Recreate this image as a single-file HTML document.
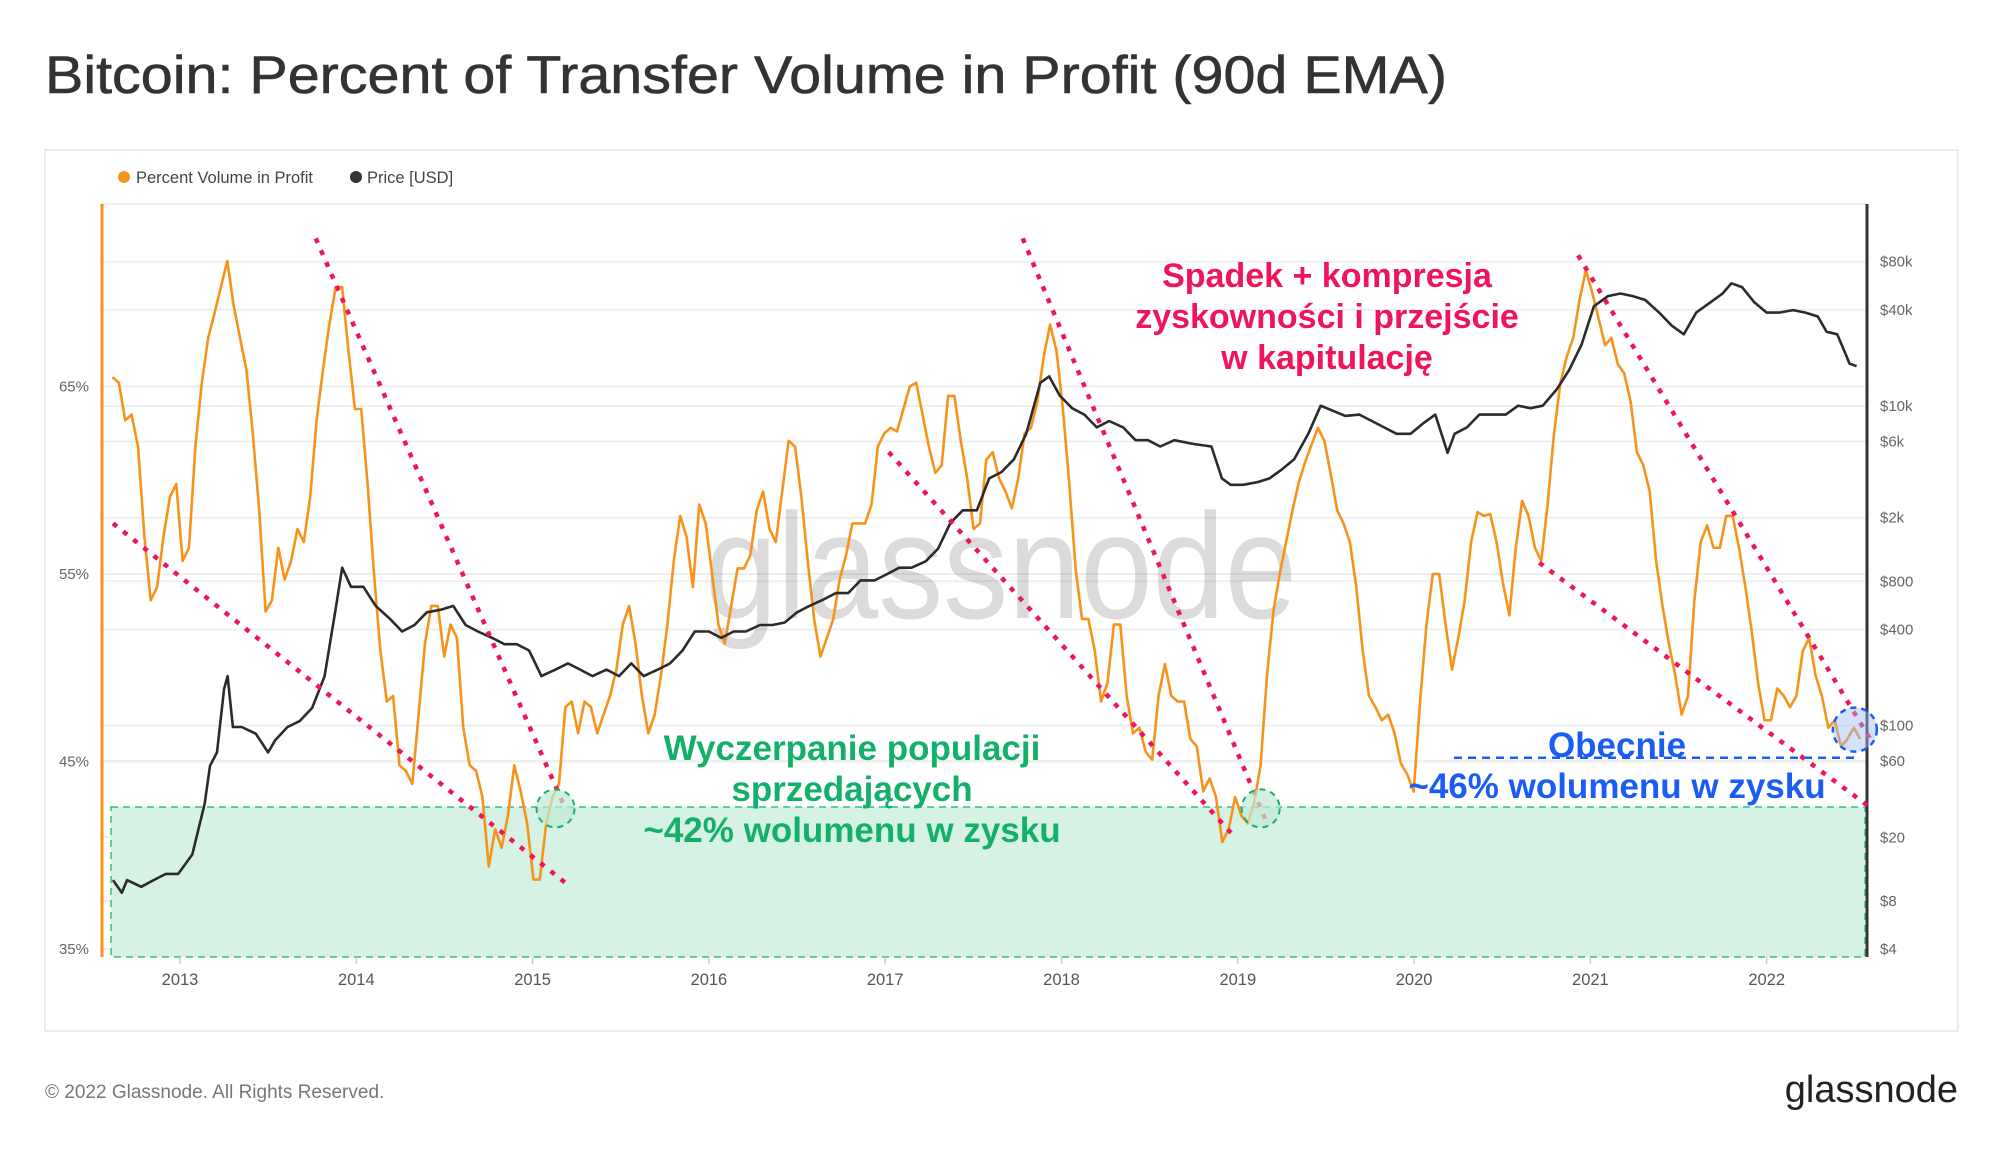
<!DOCTYPE html>
<html><head><meta charset="utf-8"><style>
html,body{margin:0;padding:0;background:#fff;}
svg{display:block;font-family:"Liberation Sans","Noto Sans CJK SC",sans-serif;}
</style></head><body>
<svg id="chart" width="2000" height="1152" viewBox="0 0 2000 1152" xmlns="http://www.w3.org/2000/svg">
<rect x="0" y="0" width="2000" height="1152" fill="#fff"/>
<text x="45" y="93" font-size="53" fill="#333" stroke="#333" stroke-width="0.6" textLength="1402" lengthAdjust="spacingAndGlyphs">Bitcoin: Percent of Transfer Volume in Profit (90d EMA)</text>
<rect x="45" y="150" width="1913" height="881" fill="none" stroke="#e5e5e5" stroke-width="1.5"/>
<g>
 <g><circle cx="124" cy="177" r="6" fill="#f7931a"/><text x="136" y="183" font-size="16.5" fill="#444">Percent Volume in Profit</text></g>
 <g><circle cx="356" cy="177" r="6" fill="#333"/><text x="367" y="183" font-size="16.5" fill="#444">Price [USD]</text></g>
</g>
<g id="grid"></g>
<text x="1001" y="618" font-size="150" fill="#000" fill-opacity="0.14" text-anchor="middle" textLength="592" lengthAdjust="spacingAndGlyphs">glassnode</text>
<rect x="111" y="807" width="1754" height="150" fill="#d6f2e4" stroke="#2fc283" stroke-width="1.5" stroke-dasharray="7 5"/>
<g id="axes"></g>
<g id="series"></g>
<g id="annot"></g>
<g font-weight="bold" text-anchor="middle">
 <text fill="#f0145a" font-size="34"><tspan x="1327" y="287">Spadek + kompresja</tspan><tspan x="1327" y="328">zyskowności i przejście</tspan><tspan x="1327" y="369">w kapitulację</tspan></text>
 <text fill="#13b06a" font-size="35"><tspan x="852" y="760">Wyczerpanie populacji</tspan><tspan x="852" y="801">sprzedających</tspan><tspan x="852" y="842">~42% wolumenu w zysku</tspan></text>
 <text fill="#1a5cf5" font-size="35"><tspan x="1617" y="757">Obecnie</tspan><tspan x="1617" y="798">~46% wolumenu w zysku</tspan></text>
</g>
<text x="45" y="1098" font-size="19" fill="#777">© 2022 Glassnode. All Rights Reserved.</text>
<text x="1958" y="1102" font-size="38" fill="#222" text-anchor="end">glassnode</text>
</svg>
<script>
const pctStart = 2012.617;
const pctStep = 0.03618;
const pctValues = [65.5,65.2,63.2,63.5,61.8,57.0,53.6,54.3,57.0,59.1,59.8,55.7,56.4,61.8,65.2,67.6,68.9,70.3,71.7,69.3,67.6,65.9,62.5,58.4,53.0,53.6,56.4,54.7,55.7,57.4,56.7,59.1,63.2,65.9,68.3,70.3,70.3,66.9,63.8,63.8,59.8,55.0,50.9,48.2,48.5,44.8,44.5,43.8,47.5,51.3,53.3,53.3,50.6,52.3,51.6,46.8,44.8,44.5,43.1,39.4,41.4,40.4,42.1,44.8,43.4,41.7,38.7,38.7,41.7,43.1,43.8,47.9,48.2,46.5,48.2,47.9,46.5,47.5,48.5,49.9,52.3,53.3,51.3,48.5,46.5,47.5,49.6,52.3,55.7,58.1,57.0,54.3,58.7,57.7,55.0,52.3,51.3,53.3,55.3,55.3,56.0,58.4,59.4,57.4,56.7,59.4,62.1,61.8,59.1,55.7,52.6,50.6,51.6,52.6,54.7,56.0,57.7,57.7,57.7,58.7,61.8,62.5,62.8,62.6,63.8,65.0,65.2,63.5,61.8,60.4,60.8,64.5,64.5,62.1,60.1,57.4,57.7,61.1,61.5,60.1,59.4,58.5,60.1,62.5,62.8,64.2,66.6,68.3,66.9,63.8,59.8,55.3,52.6,52.6,50.9,48.2,49.2,52.3,52.3,48.5,46.5,46.8,45.5,45.1,48.5,50.2,48.5,48.2,48.2,46.2,45.8,43.4,44.1,43.1,40.7,41.4,43.1,42.1,41.7,42.8,44.8,49.6,53.0,55.0,56.7,58.4,59.9,61.0,61.9,62.8,62.1,60.3,58.4,57.7,56.7,54.3,50.9,48.5,47.9,47.2,47.5,46.5,44.9,44.3,43.4,48.2,52.3,55.0,55.0,52.3,49.9,51.6,53.6,56.7,58.3,58.1,58.2,56.7,54.5,52.8,56.4,58.9,58.1,56.4,55.7,58.7,62.5,65.2,66.6,67.6,69.6,71.2,70.0,68.6,67.2,67.6,66.2,65.7,64.2,61.5,60.8,59.4,55.7,53.3,51.3,49.6,47.5,48.5,53.6,56.7,57.6,56.4,56.4,58.1,58.1,56.4,54.3,51.9,49.2,47.2,47.2,48.9,48.5,47.9,48.5,50.9,51.6,49.6,48.5,46.8,47.2,45.8,46.2,46.8,46.2];
const priceDates = [2012.62,2012.67,2012.70,2012.78,2012.85,2012.92,2012.99,2013.07,2013.14,2013.17,2013.21,2013.25,2013.27,2013.30,2013.35,2013.43,2013.50,2013.54,2013.61,2013.68,2013.75,2013.82,2013.88,2013.92,2013.97,2014.04,2014.11,2014.19,2014.26,2014.33,2014.40,2014.48,2014.55,2014.62,2014.69,2014.77,2014.84,2014.91,2014.98,2015.05,2015.13,2015.20,2015.27,2015.34,2015.42,2015.49,2015.56,2015.63,2015.71,2015.78,2015.85,2015.92,2016.00,2016.07,2016.14,2016.21,2016.29,2016.36,2016.43,2016.50,2016.57,2016.65,2016.72,2016.79,2016.86,2016.94,2017.01,2017.08,2017.15,2017.23,2017.30,2017.37,2017.44,2017.52,2017.59,2017.66,2017.73,2017.80,2017.88,2017.93,2017.99,2018.06,2018.13,2018.20,2018.27,2018.35,2018.42,2018.49,2018.56,2018.64,2018.75,2018.85,2018.91,2018.96,2019.03,2019.11,2019.18,2019.25,2019.32,2019.40,2019.47,2019.54,2019.61,2019.69,2019.76,2019.83,2019.90,2019.98,2020.05,2020.12,2020.19,2020.23,2020.30,2020.37,2020.45,2020.52,2020.59,2020.66,2020.73,2020.81,2020.88,2020.95,2021.02,2021.10,2021.17,2021.24,2021.31,2021.39,2021.46,2021.53,2021.60,2021.68,2021.75,2021.80,2021.86,2021.93,2022.00,2022.07,2022.15,2022.22,2022.29,2022.34,2022.40,2022.44,2022.47,2022.51];
const priceValues = [10.8,9.0,10.8,9.8,10.8,11.8,11.8,15.6,32.5,56,68,170,204,98,98,89,68,81,98,107,129,204,512,973,739,739,561,467,388,426,512,531,561,426,388,354,323,323,295,204,224,245,224,204,224,204,245,204,224,245,295,388,388,354,388,388,426,426,442,512,561,615,675,675,810,810,888,973,973,1067,1282,1853,2226,2226,3524,3864,4643,6700,13977,15326,11640,9684,8832,7348,8057,7348,6113,6113,5576,6113,5785,5576,3524,3214,3214,3336,3524,4009,4643,6700,10048,9333,8673,8832,8057,7348,6700,6700,7764,8832,5093,6700,7348,8832,8832,8832,10048,9684,10048,12760,16800,24268,42080,48760,50600,48760,46160,38400,31960,28120,38400,44480,50600,58640,55480,44480,38400,38400,39840,38400,36320,29160,28120,22120,18400,17760];
const yearTicks = [2013,2014,2015,2016,2017,2018,2019,2020,2021,2022];
const pctTicks = [35,45,55,65];
const priceTicks = [4,8,20,60,100,400,800,2000,6000,10000,40000,80000];
const priceTickLabels = ["$4","$8","$20","$60","$100","$400","$800","$2k","$6k","$10k","$40k","$80k"];
const trendLines = [[2012.62,57.7,2015.19,38.5],[2013.77,72.9,2015.19,42.4],[2017.02,61.5,2018.97,41.1],[2017.78,72.9,2019.17,41.6],[2020.93,72.0,2022.60,46.0],[2020.71,55.6,2022.58,42.6]];
const exhaustionLevel = 42;
const currentLevel = 45.2;
const exhaustionPoints = [[2015.13,42.5],[2019.13,42.5]];
const currentPoint = [2022.50,46.7];

const NS="http://www.w3.org/2000/svg";
const X0=102, X1=1867, Y0=204, Y1=957;
const xS = t => 180 + (t-2013)*176.3;
const yP = v => 949 - (v-35)*18.75;
const yL = p => 949 - Math.log10(p/4)*159.8;
function mk(tag, attrs, parent){const e=document.createElementNS(NS,tag);for(const k in attrs)e.setAttribute(k,attrs[k]);parent.appendChild(e);return e;}
const grid=document.getElementById('grid'), axes=document.getElementById('axes'), series=document.getElementById('series'), annot=document.getElementById('annot');

mk('line',{x1:X0,x2:X1,y1:Y0,y2:Y0,stroke:'#ececec','stroke-width':2},grid);
priceTicks.forEach(p=>{const l=mk('line',{x1:X0,x2:X1,y1:yL(p),y2:yL(p),stroke:'#efefef','stroke-width':2},grid);

});
pctTicks.forEach(v=>{const l=mk('line',{x1:X0,x2:X1,y1:yP(v),y2:yP(v),stroke:'#efefef','stroke-width':2},grid);

});

mk('line',{x1:X0,x2:X0,y1:Y0,y2:Y1,stroke:'#f7931a','stroke-width':3},axes);
mk('line',{x1:X1,x2:X1,y1:Y0,y2:Y1,stroke:'#333','stroke-width':3},axes);
pctTicks.forEach(v=>{const t=mk('text',{x:89,y:yP(v)+5,'font-size':15,fill:'#666','text-anchor':'end'},axes);t.textContent=v+'%';

});
priceTicks.forEach((p,i)=>{const t=mk('text',{x:1880,y:yL(p)+5,'font-size':15,fill:'#666'},axes);t.textContent=priceTickLabels[i];

});
yearTicks.forEach(yr=>{mk('line',{x1:xS(yr),x2:xS(yr),y1:Y1,y2:Y1+7,stroke:'#ccc','stroke-width':1.5},axes);
const t=mk('text',{x:xS(yr),y:985,'font-size':16.5,fill:'#555','text-anchor':'middle'},axes);t.textContent=yr;

});

let d='';pctValues.forEach((v,i)=>{d+=(i?'L':'M')+xS(pctStart+i*pctStep).toFixed(1)+','+yP(v).toFixed(1);});
const pl=mk('path',{d:d,fill:'none',stroke:'#f7931a','stroke-width':2.6,'stroke-linejoin':'round'},series);


let d2='';priceValues.forEach((p,i)=>{d2+=(i?'L':'M')+xS(priceDates[i]).toFixed(1)+','+yL(p).toFixed(1);});
const pr=mk('path',{d:d2,fill:'none',stroke:'#2b2b2b','stroke-width':2.6,'stroke-linejoin':'round'},series);



trendLines.forEach(t=>{const l=mk('line',{x1:xS(t[0]),y1:yP(t[1]),x2:xS(t[2]),y2:yP(t[3]),stroke:'#f0145a','stroke-width':4.5,'stroke-dasharray':'5 8'},annot);

});
exhaustionPoints.forEach(p=>{const c=mk('circle',{cx:xS(p[0]),cy:yP(p[1]),r:19,fill:'#bfead6','fill-opacity':0.7,stroke:'#18b06c','stroke-width':2,'stroke-dasharray':'6 5'},annot);

});
const cl=mk('line',{x1:1454,x2:1860,y1:yP(currentLevel),y2:yP(currentLevel),stroke:'#1a5cf5','stroke-width':2.5,'stroke-dasharray':'8 6'},annot);


const cc=mk('circle',{cx:xS(currentPoint[0]),cy:yP(currentPoint[1]),r:22,fill:'#9ebdf5','fill-opacity':0.45,stroke:'#1a5cf5','stroke-width':2.5,'stroke-dasharray':'6 5'},annot);


</script>
</body></html>
